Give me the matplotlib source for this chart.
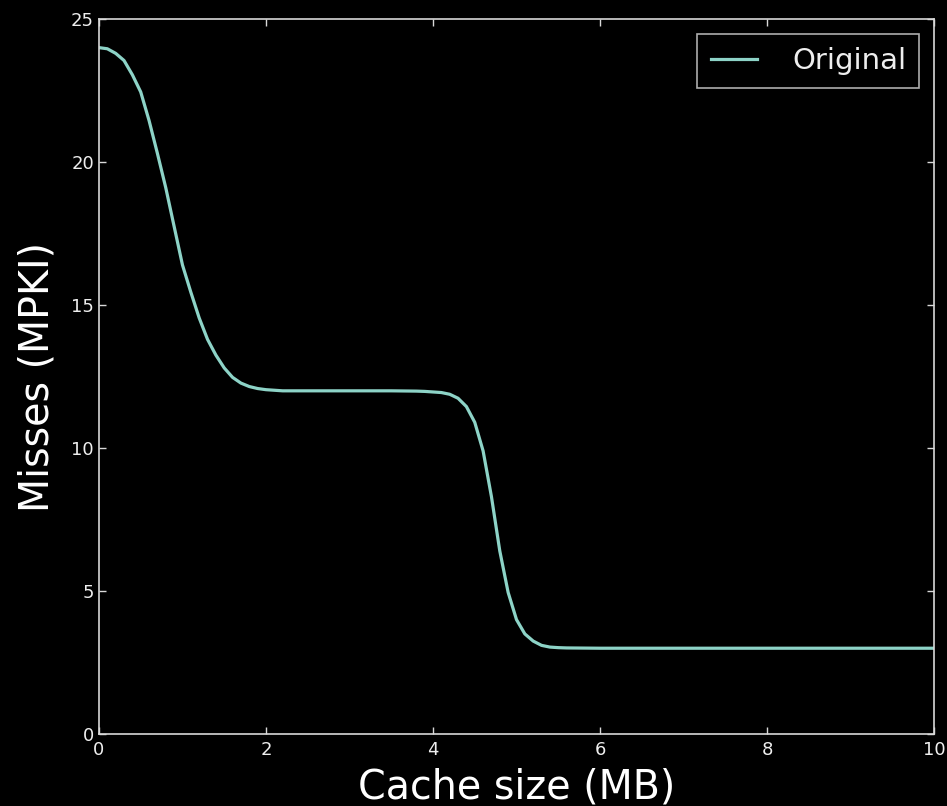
import matplotlib
matplotlib.use("Agg")
import matplotlib.pyplot as plt
import numpy as np

cache_mb = [0.0, 0.1, 0.2, 0.3, 0.4, 0.5, 0.6, 0.7, 0.8, 0.9,
            1.0, 1.1, 1.2, 1.3, 1.4, 1.5, 1.6, 1.7, 1.8, 1.9,
            2.0, 2.1, 2.2, 2.5, 3.0, 3.5, 3.8, 3.9, 4.0, 4.1,
            4.2, 4.3, 4.4, 4.5, 4.6, 4.7, 4.8, 4.9, 5.0, 5.1,
            5.2, 5.3, 5.4, 5.5, 5.6, 6.0, 7.0, 8.0, 9.0, 10.0]
misses = [24.0, 23.96, 23.8, 23.55, 23.05, 22.45, 21.45, 20.3, 19.1, 17.75,
          16.4, 15.45, 14.55, 13.8, 13.25, 12.8, 12.47, 12.27, 12.15, 12.08,
          12.04, 12.02, 12.0, 12.0, 12.0, 12.0, 11.99, 11.98, 11.96, 11.94,
          11.88, 11.74, 11.45, 10.9, 9.9, 8.3, 6.4, 4.95, 4.0, 3.5,
          3.25, 3.1, 3.04, 3.02, 3.01, 3.0, 3.0, 3.0, 3.0, 3.0]

fg = "#d8d8d8"
fig = plt.figure(figsize=(9.47, 8.06), dpi=100, facecolor="black")
ax = fig.add_axes([0.1045, 0.0893, 0.8818, 0.8871], facecolor="black")

ax.plot(cache_mb, misses, color="#8dd3c7", lw=2.3, label="Original")

ax.set_xlim(0, 10)
ax.set_ylim(0, 25)
ax.set_xticks(np.arange(0, 11, 2))
ax.set_yticks(np.arange(0, 26, 5))
ax.tick_params(direction="in", length=5, width=1, colors=fg, labelsize=13,
               top=True, right=True, labelcolor="#eeeeee")
ax.tick_params(axis="x", pad=5)
for s in ax.spines.values():
    s.set_color(fg)
    s.set_linewidth(1.2)

ax.set_xlabel("Cache size (MB)", fontsize=28.5, color="white", labelpad=6)
ax.set_ylabel("Misses (MPKI)", fontsize=28.5, color="white", labelpad=10)

leg = ax.legend(loc="upper right", fontsize=21, frameon=True, fancybox=False,
                borderaxespad=0.5, handlelength=1.6, handletextpad=1.2,
                borderpad=0.45)
leg.get_frame().set_facecolor("black")
leg.get_frame().set_edgecolor(fg)
leg.get_frame().set_linewidth(1.2)
for t in leg.get_texts():
    t.set_color("#eeeeee")

fig.savefig("out.png", dpi=100, facecolor="black")
